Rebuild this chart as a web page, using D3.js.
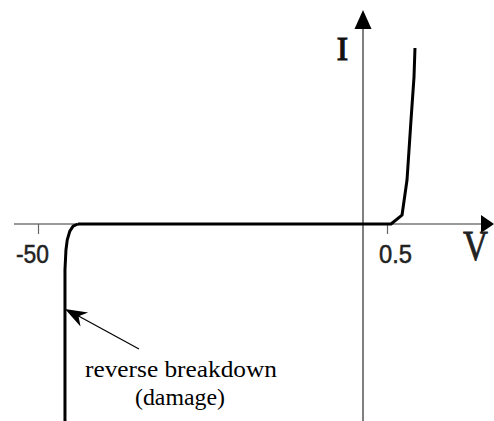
<!DOCTYPE html>
<html><head><meta charset="utf-8">
<script src="https://cdn.jsdelivr.net/npm/d3@7"></script>
<style>body{margin:0;background:#fff}svg{display:block}</style>
</head><body>
<svg id="c" width="494" height="421"></svg>
<script>
// Data: diode I-V curve (V in volts on a broken axis, I in arbitrary units)
const forwardV = [-43.85, 0.583, 0.8125, 0.917, 1.0, 1.0625, 1.083];
const forwardI = [0, 0, 1.0, 5.0, 11.8, 16.7, 20.0];
const reverseV = [-43.85, -44.6, -45.1, -45.5, -45.7, -45.85, -45.85];
const reverseI = [0, -0.25, -0.8, -1.8, -2.95, -5.2, -23];
const tickValues = [-50, 0.5];
const tickLabels = ["-50", "0.5"];
const axisLabels = {x: "V", y: "I"};
const annotation = ["reverse breakdown", "(damage)"];
const annotV = -45.85, annotI = -9.66;

const svg = d3.select("#c");
// piecewise (broken) horizontal scale
const x = d3.scaleLinear().domain([-50, 0, 0.5]).range([38, 363, 387]);
const y = d3.scaleLinear().domain([-20, 20]).range([400, 48]);

const y0 = y(0), x0 = x(0);

// horizontal axis line + arrow
svg.append("line").attr("x1", 14).attr("x2", 484).attr("y1", y0).attr("y2", y0)
  .attr("stroke", "#777").attr("stroke-width", 1.5);
svg.append("path").attr("d", `M494,${y0}L481,${y0-9}L481,${y0+9}Z`).attr("fill", "#000");

// ticks
const ax = d3.axisBottom(x).tickValues(tickValues).tickSize(10)
  .tickFormat((d, i) => tickLabels[i]);
const g = svg.append("g").attr("transform", `translate(0,${y0})`).call(ax);
g.select(".domain").remove();
g.selectAll(".tick line").attr("stroke", "#666").attr("stroke-width", 1.2);
g.selectAll(".tick text").attr("font-family", "Liberation Sans, Arial, sans-serif")
  .attr("font-size", 25).attr("fill", "#222").attr("stroke", "#222").attr("stroke-width", 0.5)
  .attr("dy", null)
  .attr("y", 263 - y0).attr("textLength", 33).attr("lengthAdjust", "spacingAndGlyphs");
g.selectAll(".tick").filter(d => d === 0.5).select("text").attr("dx", 8);
g.selectAll(".tick").filter(d => d === -50).select("text").attr("dx", -6);

// vertical axis + arrow
svg.append("line").attr("x1", x0).attr("x2", x0).attr("y1", 28).attr("y2", 421)
  .attr("stroke", "#000").attr("stroke-width", 1);
svg.append("path").attr("d", `M${x0},10L${x0-8.5},29L${x0+8.5},29Z`).attr("fill", "#000");

// axis labels
svg.append("text").attr("x", 463).attr("y", 260)
  .attr("font-family", "Liberation Serif, Times New Roman, serif").attr("font-size", 43)
  .attr("textLength", 25).attr("lengthAdjust", "spacingAndGlyphs")
  .attr("fill", "#222").attr("stroke", "#222").attr("stroke-width", 0.8).text(axisLabels.x);
svg.append("text").attr("x", 342.5).attr("y", 60).attr("text-anchor", "middle")
  .attr("font-family", "Liberation Serif, Times New Roman, serif").attr("font-size", 34)
  .attr("fill", "#111").attr("stroke", "#111").attr("stroke-width", 1.2).text(axisLabels.y);

// curves
const lineR = d3.line().x(d => x(d[0])).y(d => y(d[1])).curve(d3.curveLinear);
svg.append("path").datum(forwardV.map((v, i) => [v, forwardI[i]]))
  .attr("d", lineR).attr("fill", "none").attr("stroke", "#000").attr("stroke-width", 3)
  .attr("stroke-linejoin", "round");
svg.append("path").datum(reverseV.map((v, i) => [v, reverseI[i]]))
  .attr("d", lineR).attr("fill", "none").attr("stroke", "#000").attr("stroke-width", 3)
  .attr("stroke-linejoin", "round");

// annotation arrow
const tx = x(annotV), ty = y(annotI);
const sx = 139, sy = 349;
svg.append("line").attr("x1", sx).attr("y1", sy).attr("x2", tx + 8).attr("y2", ty + 4)
  .attr("stroke", "#000").attr("stroke-width", 1.2);
const ang = Math.atan2(sy - ty, sx - tx);
const L = 22, W = 8;
const bx = tx + L * Math.cos(ang), by = ty + L * Math.sin(ang);
const px = -Math.sin(ang) * W, py = Math.cos(ang) * W;
const mx = tx + 0.7 * L * Math.cos(ang), my = ty + 0.7 * L * Math.sin(ang);
svg.append("path").attr("d",
  `M${tx},${ty}L${bx + px},${by + py}L${mx},${my}L${bx - px},${by - py}Z`).attr("fill", "#000");

svg.append("g").selectAll("text").data(annotation).join("text")
  .attr("x", (d, i) => i === 0 ? 181 : 180).attr("y", (d, i) => i === 0 ? 377 : 405)
  .attr("text-anchor", "middle")
  .attr("textLength", (d, i) => i === 0 ? 192 : 90).attr("lengthAdjust", "spacingAndGlyphs")
  .attr("font-family", "Liberation Serif, Times New Roman, serif").attr("font-size", 23)
  .attr("fill", "#000").text(d => d);
</script>
</body></html>
